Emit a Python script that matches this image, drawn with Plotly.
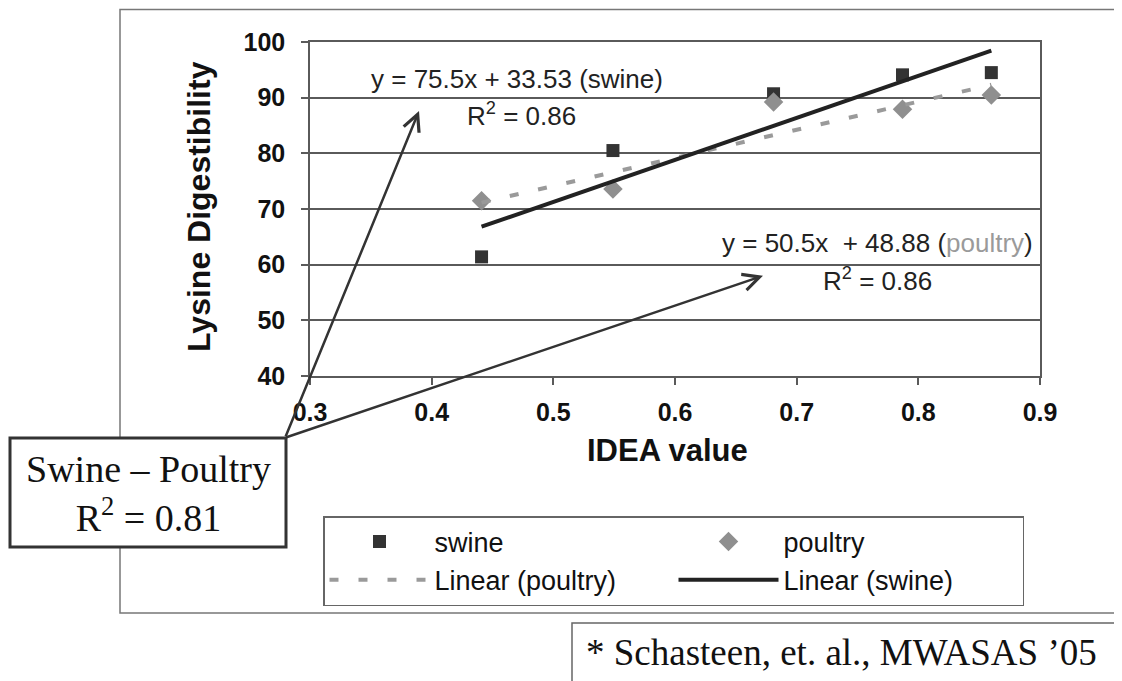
import plotly.graph_objects as go

# ---- data ----
idea_x = [0.441, 0.549, 0.681, 0.787, 0.860]
swine_y = [61.4, 80.5, 90.7, 94.1, 94.5]
poultry_y = [71.5, 73.6, 89.2, 87.9, 90.5]

swine_slope, swine_intercept = 75.5, 33.53
poultry_slope, poultry_intercept = 50.5, 48.88

x_ticks = [0.3, 0.4, 0.5, 0.6, 0.7, 0.8, 0.9]
y_ticks = [40, 50, 60, 70, 80, 90, 100]

# ---- layout geometry (screen pixels; page body adds an 8px offset) ----
W, H = 1122, 681
OFF = 8
PL, PR, PT, PB = 310, 1040, 42, 376


def px(x):
    return (x - PL) / (PR - PL)


def py(y):
    return (PB - y) / (PB - PT)


SANS = "Liberation Sans, Arial, sans-serif"
SERIF = "Liberation Serif, Times New Roman, serif"
GRID = "#5a5a5a"

xs_line = [min(idea_x), max(idea_x)]

fig = go.Figure()
fig.add_trace(go.Scatter(x=idea_x, y=swine_y, mode="markers", name="swine",
                         marker=dict(symbol="square", size=13, color="#333333")))
fig.add_trace(go.Scatter(x=idea_x, y=poultry_y, mode="markers", name="poultry",
                         marker=dict(symbol="diamond", size=15, color="#8f8f8f")))
fig.add_trace(go.Scatter(x=xs_line, y=[poultry_slope * v + poultry_intercept for v in xs_line],
                         mode="lines", name="Linear (poultry)",
                         line=dict(color="#9a9a9a", width=4, dash="9px,20px")))
fig.add_trace(go.Scatter(x=xs_line, y=[swine_slope * v + swine_intercept for v in xs_line],
                         mode="lines", name="Linear (swine)",
                         line=dict(color="#222222", width=4)))


def label(xp, yp, text, font, **kw):
    d = dict(xref="paper", yref="paper", x=px(xp), y=py(yp), xanchor="center",
             yanchor="middle", showarrow=False, text=text, font=font)
    d.update(kw)
    return d


eq_font = dict(family=SANS, size=26, color="#222")
annotations = [
    # equations
    label(517, 79, "y = 75.5x + 33.53 (swine)", eq_font),
    label(521, 114, "R<sup>2</sup> = 0.86", eq_font),
    label(877, 243, 'y = 50.5x  + 48.88 (<span style="color:#9a9a9a">poultry</span>)', eq_font),
    label(877, 279, "R<sup>2</sup> = 0.86", eq_font),
    # axis titles
    label(199, 207, "<b>Lysine Digestibility</b>", dict(family=SANS, size=32, color="#111"),
          textangle=-90),
    label(667, 450, "<b>IDEA value</b>", dict(family=SANS, size=31, color="#111")),
    # arrows from callout box
    dict(xref="x", yref="y", x=0.3896, y=87.6, ax=-134, ay=327, text="", showarrow=True,
         arrowhead=5, arrowsize=1.3, arrowwidth=2.5, arrowcolor="#333"),
    dict(xref="x", yref="y", x=0.6723, y=58.0, ax=-478, ay=162, text="", showarrow=True,
         arrowhead=5, arrowsize=1.3, arrowwidth=2.5, arrowcolor="#333"),
    # callout text
    label(148, 493, "Swine – Poultry<br>R<sup>2</sup> = 0.81",
          dict(family=SERIF, size=38, color="#111")),
    # citation
    label(584, 652, "* Schasteen, et. al., MWASAS ’05",
          dict(family=SERIF, size=37, color="#111"), xanchor="left"),
]

shapes = [
    dict(type="rect", xref="paper", yref="paper", x0=px(120), y0=py(9.5), x1=px(1150), y1=py(613),
         line=dict(color="#777", width=1.5), layer="below"),
    dict(type="rect", xref="paper", yref="paper", x0=px(10), y0=py(438), x1=px(286), y1=py(547),
         line=dict(color="#333", width=3), fillcolor="white", layer="above"),
    dict(type="rect", xref="paper", yref="paper", x0=px(572), y0=py(623), x1=px(1150), y1=py(710),
         line=dict(color="#666", width=1.5), layer="below"),
]

fig.update_layout(
    width=W, height=H,
    margin=dict(l=PL - OFF, r=W - PR + OFF, t=PT - OFF, b=H - PB + OFF, autoexpand=False),
    paper_bgcolor="white", plot_bgcolor="white",
    showlegend=True,
    legend=dict(orientation="h", x=px(323), y=py(516), xanchor="left", yanchor="top",
                bordercolor="#666", borderwidth=1.5, bgcolor="white",
                font=dict(family=SANS, size=27, color="#111"),
                entrywidth=234, itemwidth=100, traceorder="normal", tracegroupgap=0),
    annotations=annotations,
    shapes=shapes,
)
fig.update_xaxes(range=[0.3, 0.9], tickvals=x_ticks, ticktext=[f"{v:.1f}" for v in x_ticks],
                 showgrid=False, zeroline=False, showline=True, mirror=True,
                 linecolor=GRID, linewidth=1.5, ticks="outside", ticklen=7, tickwidth=1.5,
                 tickcolor=GRID, ticklabelstandoff=6,
                 tickfont=dict(family=SANS, size=25, color="#111", weight="bold"))
fig.update_yaxes(range=[40, 100], tickvals=y_ticks,
                 showgrid=True, gridcolor=GRID, gridwidth=1.5, zeroline=False,
                 showline=True, mirror=True, linecolor=GRID, linewidth=1.5,
                 ticks="outside", ticklen=7, tickwidth=1.5, tickcolor=GRID, ticklabelstandoff=11,
                 tickfont=dict(family=SANS, size=25, color="#111", weight="bold"))

fig.write_html("out.html")
